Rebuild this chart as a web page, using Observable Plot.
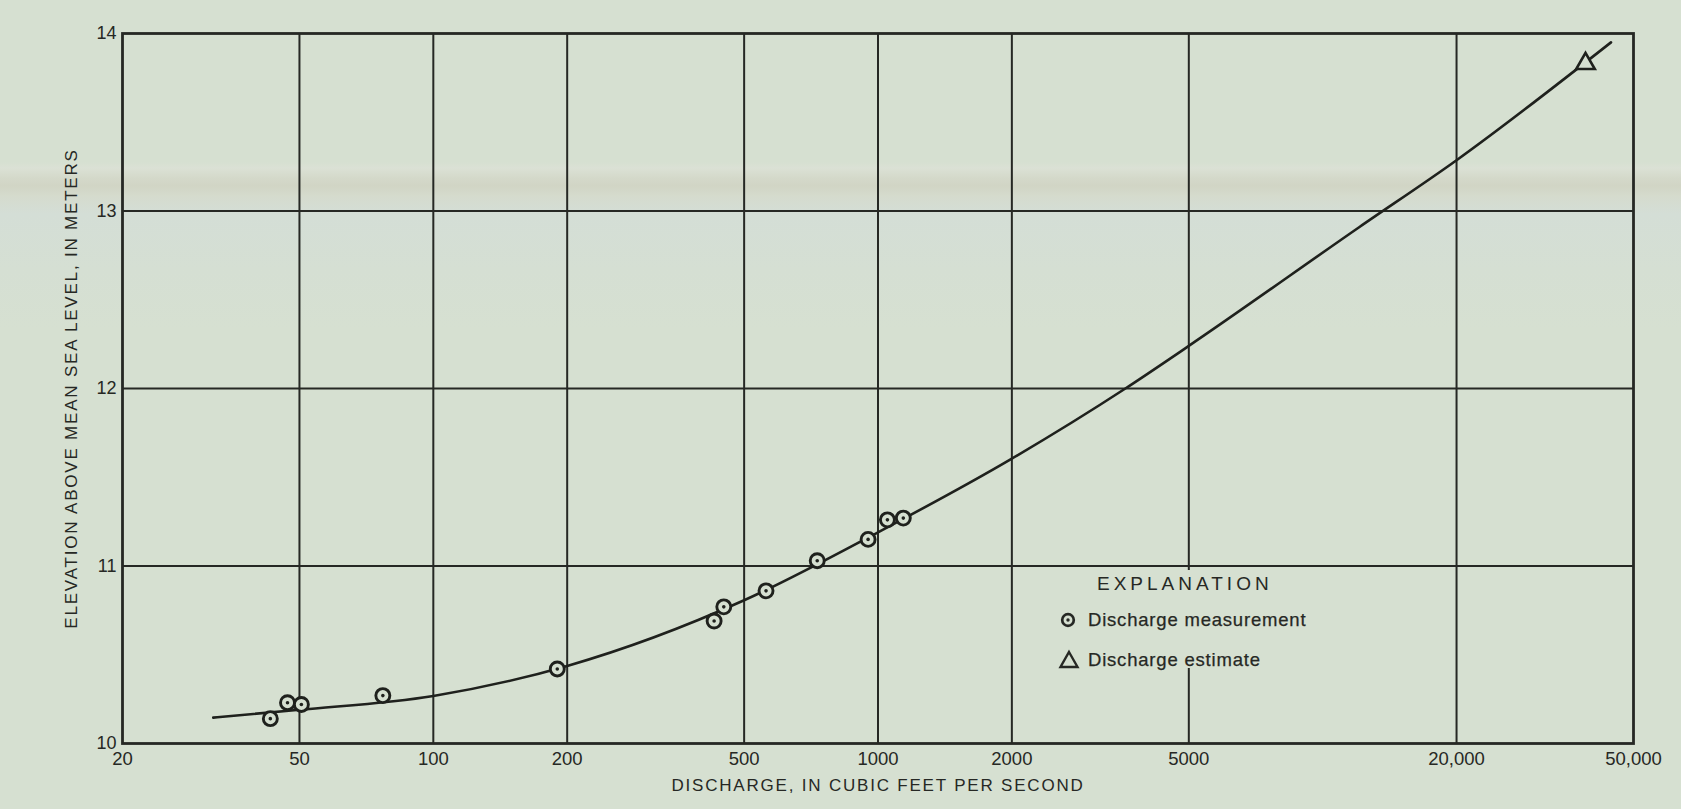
<!DOCTYPE html>
<html>
<head>
<meta charset="utf-8">
<script src="https://cdn.jsdelivr.net/npm/d3@7"></script>
<script src="https://cdn.jsdelivr.net/npm/@observablehq/plot@0.6"></script>
<style>
  html, body { margin: 0; padding: 0; overflow: hidden; }
  body {
    width: 1681px; height: 809px;
    font-family: "Liberation Sans", Arial, sans-serif;
    color: #262824;
    background: linear-gradient(to bottom,
      #d6e0d1 0px, #d6e0d1 162px,
      #dbe1d5 168px, #d4d9ca 178px, #d1d5c5 186px, #d5dbcd 196px,
      #d4ded6 214px, #d5dfd3 270px, #d6e0d1 330px, #d6e0d1 809px);
  }
  #wrap { position: relative; width: 1681px; height: 809px; }
  #legend {
    position: absolute; left: 1056px; top: 570px; width: 262px; height: 98px;
    background: #d6e0d1;
  }
  #legend .head {
    position: absolute; left: 41px; top: 3px;
    font-size: 19px; letter-spacing: 4px; line-height: 22px;
  }
  #legend .item {
    position: absolute; left: 32px;
    font-size: 18.5px; letter-spacing: 0.8px; line-height: 22px;
    -webkit-text-stroke: 0.25px #262824;
  }
  #legend svg { position: absolute; left: 0; top: 0; overflow: visible; }
</style>
</head>
<body>
<div id="wrap">
  <div id="chart"></div>
  <div id="legend">
    <svg width="262" height="98">
      <circle cx="12" cy="50" r="5.8" fill="#d6e0d1" stroke="#262824" stroke-width="2.7"></circle>
      <circle cx="12" cy="50" r="1.7" fill="#262824"></circle>
      <path d="M13,82 L21.5,97 L4.5,97 Z" fill="none" stroke="#262824" stroke-width="2.4" stroke-linejoin="miter"></path>
    </svg>
    <div class="head">EXPLANATION</div>
    <div class="item" style="top:39px">Discharge measurement</div>
    <div class="item" style="top:79px">Discharge estimate</div>
  </div>
</div>
<script>
// Stage–discharge rating: grid ticks, measured and estimated discharges, fitted rating curve.
const xTicks = [20, 50, 100, 200, 500, 1000, 2000, 5000, 20000, 50000];
const yTicks = [10, 11, 12, 13, 14];

const measuredQ     = [43, 47, 50.5, 77, 190, 428, 450, 560, 730, 950, 1050, 1140];
const measuredStage = [10.14, 10.23, 10.22, 10.27, 10.42, 10.69, 10.77, 10.86, 11.03, 11.15, 11.26, 11.27];

const estimatedQ     = [39000];
const estimatedStage = [13.83];

const ratingQ     = [32, 50, 100, 200, 500, 1000, 2000, 3600, 5000, 12100, 20000, 44500];
const ratingStage = [10.146, 10.19, 10.268, 10.437, 10.807, 11.19, 11.605, 12.0, 12.24, 12.91, 13.286, 13.95];

const xTitle = "DISCHARGE, IN CUBIC FEET PER SECOND";
const yTitle = "ELEVATION ABOVE MEAN SEA LEVEL, IN METERS";

const measured  = measuredQ.map((q, i) => ({q, stage: measuredStage[i]}));
const estimated = estimatedQ.map((q, i) => ({q, stage: estimatedStage[i]}));
const rating    = ratingQ.map((q, i) => ({q, stage: ratingStage[i]}));

const ink = "#262824";
const paper = "#d6e0d1";
const fmtX = d => d >= 10000 ? d3.format(",")(d) : String(d);

const chart = Plot.plot({
  width: 1681,
  height: 809,
  marginLeft: 122,
  marginRight: 48,
  marginTop: 33,
  marginBottom: 66,
  style: {background: "transparent", fontFamily: "'Liberation Sans', Arial, sans-serif", color: ink, overflow: "visible"},
  x: {type: "log", domain: [20, 50000]},
  y: {domain: [10, 14]},
  marks: [
    Plot.ruleX(xTicks.slice(1, -1), {y1: 10, y2: 14, stroke: ink, strokeWidth: 2}),
    Plot.ruleY(yTicks.slice(1, -1), {stroke: ink, strokeWidth: 2}),
    Plot.frame({stroke: ink, strokeWidth: 2.8}),
    Plot.axisX(xTicks, {tickFormat: fmtX, tickSize: 0, tickPadding: 8, fontSize: 18.5, label: null}),
    Plot.axisY(yTicks, {tickFormat: d => String(d), tickSize: 0, tickPadding: 6, fontSize: 18, label: null}),
    Plot.text([xTitle], {frameAnchor: "bottom", dy: 47, fontSize: 17, fill: ink}),
    Plot.text([yTitle], {frameAnchor: "left", dx: -51, rotate: -90, textAnchor: "middle", fontSize: 17, fill: ink}),
    Plot.line(rating, {x: "q", y: "stage", curve: "monotone-x", stroke: "#1f211d", strokeWidth: 2.6}),
    Plot.dot(measured, {x: "q", y: "stage", r: 7, fill: paper, stroke: "#1f211d", strokeWidth: 2.9}),
    Plot.dot(measured, {x: "q", y: "stage", r: 1.8, fill: "#1f211d"}),
    Plot.dot(estimated, {x: "q", y: "stage", symbol: "triangle", r: 6.9, fill: paper, stroke: "#1f211d", strokeWidth: 2.6})
  ]
});

// Spaced capitals for the axis titles
d3.select(chart).selectAll("text")
  .filter(function () { return this.textContent === xTitle || this.textContent === yTitle; })
  .attr("letter-spacing", "1.8px");

document.getElementById("chart").appendChild(chart);
</script>
</body>
</html>
